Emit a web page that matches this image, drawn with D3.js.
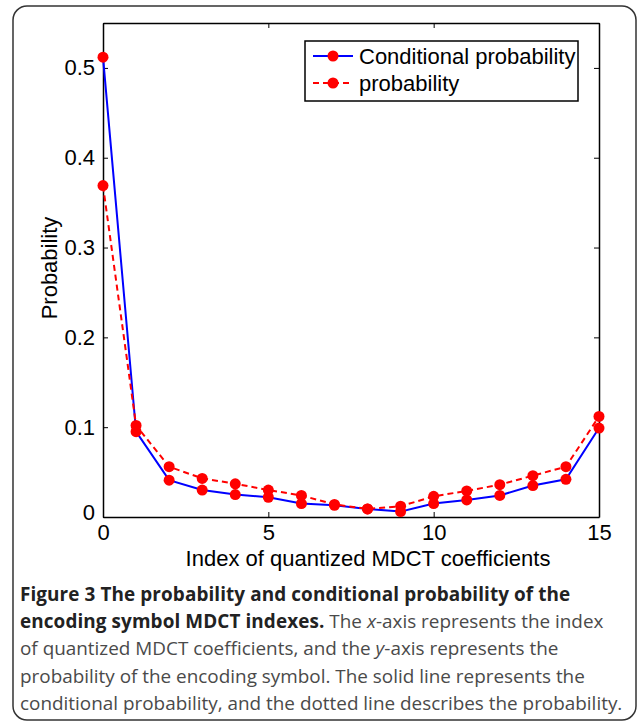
<!DOCTYPE html>
<html>
<head>
<meta charset="utf-8">
<script src="https://cdn.jsdelivr.net/npm/d3@7"></script>
<style>
  body { margin: 0; background: #fff; }
  svg { display: block; }
</style>
</head>
<body>
<div id="my_dataviz"></div>
<script>

// data
var index = [0, 1, 2, 3, 4, 5, 6, 7, 8, 9, 10, 11, 12, 13, 14, 15];
var condProb = [0.512, 0.095, 0.041, 0.030, 0.025, 0.022, 0.015, 0.013, 0.009, 0.006, 0.015, 0.019, 0.024, 0.035, 0.042, 0.099];
var prob = [0.369, 0.102, 0.056, 0.043, 0.037, 0.030, 0.024, 0.014, 0.009, 0.012, 0.023, 0.029, 0.036, 0.046, 0.056, 0.112];
var xTicks = [0, 5, 10, 15];
var yTicks = [0, 0.1, 0.2, 0.3, 0.4, 0.5];
var legendNames = ["Conditional probability", "probability"];

var W = 637, H = 723;
var margin = {top: 23, right: 38, bottom: 206, left: 103},
    width = W - margin.left - margin.right,
    height = H - margin.top - margin.bottom;

var root = d3.select("#my_dataviz")
  .append("svg")
    .attr("width", W)
    .attr("height", H);

// rounded frame around figure + caption
root.append("rect")
    .attr("x", 13).attr("y", 6)
    .attr("width", 623).attr("height", 714)
    .attr("rx", 14).attr("ry", 14)
    .attr("fill", "none")
    .attr("stroke", "#333")
    .attr("stroke-width", 1.5);

var svg = root.append("g")
    .attr("transform", "translate(" + margin.left + "," + margin.top + ")");

var x = d3.scaleLinear().domain([0, 15]).range([0, width]);
var y = d3.scaleLinear().domain([0, 0.55]).range([height, 0]);

var fontFam = "'Liberation Sans', Arial, sans-serif";
var fs = "22px";

// axes, matlab style with inward ticks on all sides
var xAxis = svg.append("g")
    .attr("transform", "translate(0," + height + ")")
    .call(d3.axisBottom(x).tickValues(xTicks).tickSizeInner(-5).tickSizeOuter(0).tickPadding(7).tickFormat(d3.format("d")));
var yAxis = svg.append("g")
    .call(d3.axisLeft(y).tickValues(yTicks).tickSizeInner(-5).tickSizeOuter(0).tickPadding(8)
      .tickFormat(function(d) { return d === 0 ? "0" : d3.format(".1f")(d); }));
svg.append("g")
    .call(d3.axisTop(x).tickValues(xTicks).tickSizeInner(-5).tickSizeOuter(0).tickFormat(""));
svg.append("g")
    .attr("transform", "translate(" + width + ",0)")
    .call(d3.axisRight(y).tickValues(yTicks).tickSizeInner(-5).tickSizeOuter(0).tickFormat(""));

svg.selectAll(".domain").attr("stroke", "#000").attr("stroke-width", 1.5);
svg.selectAll(".tick line").attr("stroke", "#000");
svg.selectAll(".tick text")
    .attr("fill", "#000")
    .style("font-family", fontFam)
    .style("font-size", fs);
// the y "0" sits a bit low like in the figure
yAxis.selectAll(".tick text").filter(function(d) { return d === 0; }).attr("dy", "0.1em");

// labels
svg.append("text")
    .attr("x", width / 2 + 17)
    .attr("y", height + 49)
    .attr("text-anchor", "middle")
    .style("font-family", fontFam)
    .style("font-size", fs)
    .text("Index of quantized MDCT coefficients");

svg.append("text")
    .attr("x", -(height / 2) + 2)
    .attr("y", -46)
    .attr("transform", "rotate(-90)")
    .attr("text-anchor", "middle")
    .style("font-family", fontFam)
    .style("font-size", fs)
    .text("Probability");

var series = [
  {name: legendNames[0], values: condProb, color: "#0000ff", dash: null},
  {name: legendNames[1], values: prob, color: "#ff0000", dash: "6,4"}
];

var line = d3.line()
    .x(function(d, i) { return x(index[i]); })
    .y(function(d) { return y(d); });

series.forEach(function(s) {
  svg.append("path")
      .datum(s.values)
      .attr("fill", "none")
      .attr("stroke", s.color)
      .attr("stroke-width", 2)
      .attr("stroke-dasharray", s.dash)
      .attr("d", line);
});
series.forEach(function(s) {
  svg.selectAll(null)
      .data(s.values)
      .enter()
      .append("circle")
      .attr("cx", function(d, i) { return x(index[i]); })
      .attr("cy", function(d) { return y(d); })
      .attr("r", 5.5)
      .attr("fill", "#ff0000");
});

// legend
var lg = svg.append("g").attr("transform", "translate(202,18)");
lg.append("rect")
    .attr("width", 273).attr("height", 60)
    .attr("fill", "#fff")
    .attr("stroke", "#000")
    .attr("stroke-width", 1.5);
series.forEach(function(s, i) {
  var ly = 15 + i * 27;
  lg.append("line")
      .attr("x1", 8).attr("x2", 48)
      .attr("y1", ly).attr("y2", ly)
      .attr("stroke", s.color)
      .attr("stroke-width", 2)
      .attr("stroke-dasharray", s.dash);
  lg.append("circle")
      .attr("cx", 28).attr("cy", ly).attr("r", 5.5)
      .attr("fill", "#ff0000");
  lg.append("text")
      .attr("x", 54).attr("y", ly + 8)
      .style("font-family", fontFam)
      .style("font-size", fs)
      .text(s.name);
});

// caption
var capLines = [
  [{t: "Figure 3 The probability and conditional probability of the", b: true}],
  [{t: "encoding symbol MDCT indexes.", b: true}, {t: " The ", b: false}, {t: "x", b: false, i: true}, {t: "-axis represents the index", b: false}],
  [{t: "of quantized MDCT coefficients, and the ", b: false}, {t: "y", b: false, i: true}, {t: "-axis represents the", b: false}],
  [{t: "probability of the encoding symbol. The solid line represents the", b: false}],
  [{t: "conditional probability, and the dotted line describes the probability.", b: false}]
];
var cap = root.append("g");
capLines.forEach(function(parts, li) {
  var t = cap.append("text")
      .attr("x", 20)
      .attr("y", 601 + li * 27.2)
      .style("font-family", "'Open Sans', sans-serif")
      .style("font-size", "18.9px");
  parts.forEach(function(p) {
    t.append("tspan")
        .attr("font-weight", p.b ? 700 : 400)
        .attr("font-style", p.i ? "italic" : "normal")
        .attr("letter-spacing", p.b ? "0.1px" : null)
        .attr("fill", p.b ? "#222" : "#4a4a4a")
        .text(p.t);
  });
});

</script>
</body>
</html>
